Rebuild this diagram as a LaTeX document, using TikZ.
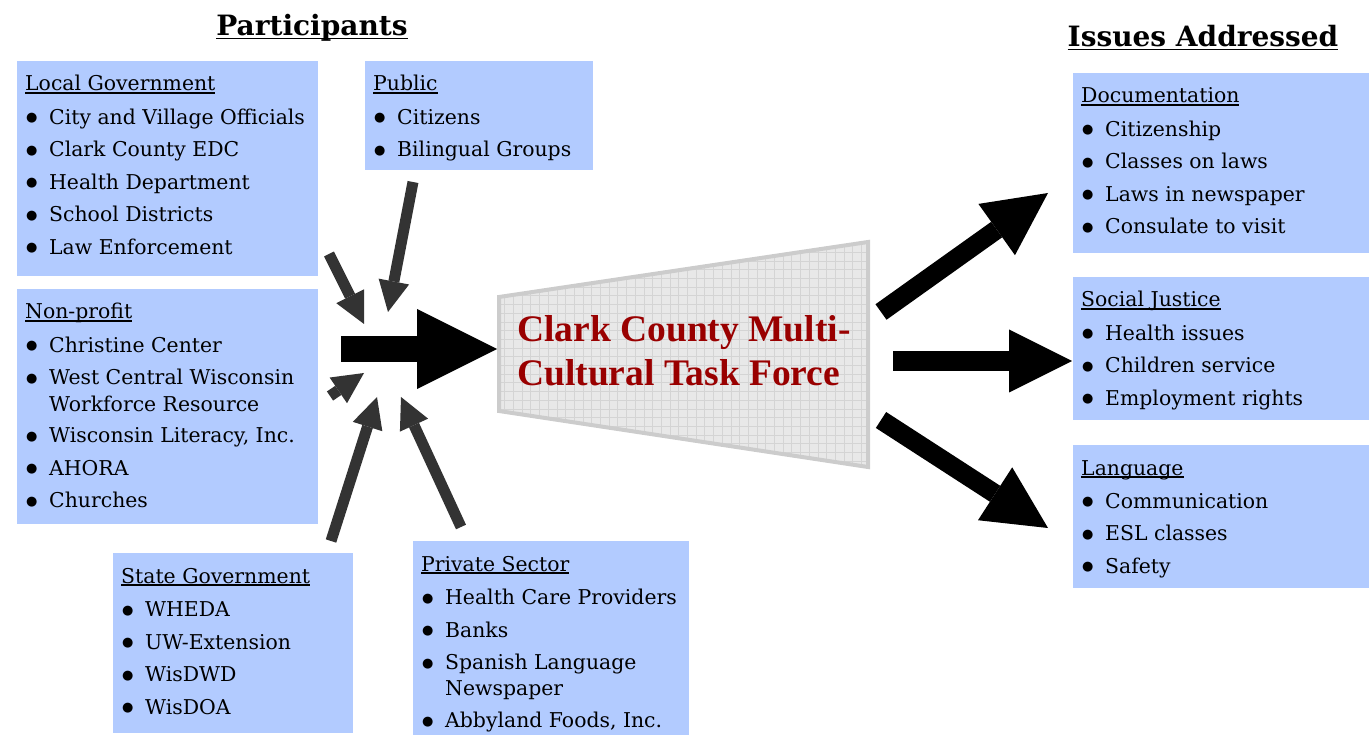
\documentclass[tikz,border=0pt]{standalone}
\usepackage{fontspec}
\setmainfont{DejaVu Serif}
\newfontfamily\taskfont{Liberation Serif}
\newfontfamily\symfont{DejaVu Sans}
\usetikzlibrary{arrows.meta}

\definecolor{boxblue}{RGB}{178,203,255}
\definecolor{greyarrow}{RGB}{51,51,51}
\definecolor{taskred}{RGB}{153,0,0}
\definecolor{trapfill}{RGB}{232,232,232}
\definecolor{trapline}{RGB}{204,204,204}
\definecolor{gridline}{RGB}{212,212,212}

% underlined heading with a fixed rule depth
\newlength\ulwidth
\newcommand\ulhead[2][3pt]{\leavevmode\settowidth\ulwidth{#2}\rlap{\rule[-#1]{\ulwidth}{1.8pt}}#2}
% one bulleted entry of a list
\newcommand\listdot{\raisebox{2.5pt}{\symfont\fontsize{13}{13}\selectfont ●}}
\newcommand\itm[1]{\makebox[24pt][l]{\hspace{1pt}\listdot}#1}
\newcommand\cont[1]{\hspace*{24pt}#1}

\begin{document}
\begin{tikzpicture}[x=1pt,y=-1pt,
  bluebox/.style={fill=boxblue, draw=none, anchor=north west, inner sep=0pt},
  listtext/.style={anchor=base west, inner sep=0pt,
    font=\fontsize{20.4}{32.5}\selectfont},
  heading/.style={anchor=base, inner sep=0pt,
    font=\bfseries\fontsize{28}{28}\selectfont},
  fatarrow/.style n args={3}{draw=black, line width=#1,
    -{Triangle[length=#2, width=#3, line width=0pt]}},
  thinarrow/.style={draw=greyarrow, line width=11pt,
    -{Triangle[length=31pt, width=31pt, line width=0pt]}}
]
\useasboundingbox (0,0) rectangle (1369,735);

% headings
\node[heading] (participants) at (312,36) {\ulhead[3.5pt]{Participants}};
\node[heading] (issues) at (1203,47) {\ulhead[3.5pt]{Issues Addressed}};

% participant boxes
\node[bluebox, minimum width=301pt, minimum height=215pt] (localgov) at (17,61) {};
\node[bluebox, minimum width=228pt, minimum height=109pt] (public) at (365,61) {};
\node[bluebox, minimum width=301pt, minimum height=235pt] (nonprofit) at (17,289) {};
\node[bluebox, minimum width=240pt, minimum height=180pt] (stategov) at (113,553) {};
\node[bluebox, minimum width=276pt, minimum height=194pt] (private) at (413,541) {};

% issue boxes
\node[bluebox, minimum width=296pt, minimum height=180pt] (docs) at (1073,73) {};
\node[bluebox, minimum width=296pt, minimum height=143pt] (justice) at (1073,277) {};
\node[bluebox, minimum width=296pt, minimum height=143pt] (language) at (1073,445) {};

% box contents
\node[listtext] (localgovtext) at (25,91) {\begin{minipage}[t]{290pt}
\ulhead{Local Government}\\[1pt]
\itm{City and Village Officials}\\
\itm{Clark County EDC}\\
\itm{Health Department}\\
\itm{School Districts}\\
\itm{Law Enforcement}
\end{minipage}};

\node[listtext] (publictext) at (373,91) {\begin{minipage}[t]{220pt}
\ulhead{Public}\\[1pt]
\itm{Citizens}\\
\itm{Bilingual Groups}
\end{minipage}};

\node[listtext] (nonprofittext) at (25,319) {\begin{minipage}[t]{290pt}
\ulhead{Non-profit}\\[1pt]
\itm{Christine Center}\\
\itm{West Central Wisconsin}\\[-5.5pt]
\cont{Workforce Resource}\\[-1.5pt]
\itm{Wisconsin Literacy, Inc.}\\
\itm{AHORA}\\
\itm{Churches}
\end{minipage}};

\node[listtext] (statetext) at (121,583) {\begin{minipage}[t]{230pt}
\ulhead{State Government}\\[1pt]
\itm{WHEDA}\\
\itm{UW-Extension}\\
\itm{WisDWD}\\
\itm{WisDOA}
\end{minipage}};

\node[listtext] (privatetext) at (421,571) {\begin{minipage}[t]{270pt}
\ulhead{Private Sector}\\[1pt]
\itm{Health Care Providers}\\
\itm{Banks}\\
\itm{Spanish Language}\\[-6.5pt]
\cont{Newspaper}\\[-0.5pt]
\itm{Abbyland Foods, Inc.}
\end{minipage}};

\node[listtext] (docstext) at (1081,103) {\begin{minipage}[t]{285pt}
\ulhead{Documentation}\\[1pt]
\itm{Citizenship}\\
\itm{Classes on laws}\\
\itm{Laws in newspaper}\\
\itm{Consulate to visit}
\end{minipage}};

\node[listtext] (justicetext) at (1081,307) {\begin{minipage}[t]{285pt}
\ulhead{Social Justice}\\[1pt]
\itm{Health issues}\\
\itm{Children service}\\
\itm{Employment rights}
\end{minipage}};

\node[listtext] (languagetext) at (1081,475) {\begin{minipage}[t]{285pt}
\ulhead{Language}\\[1pt]
\itm{Communication}\\
\itm{ESL classes}\\
\itm{Safety}
\end{minipage}};

% central task force panel
\begin{scope}
  \clip (499,297) -- (868,242) -- (868,467) -- (499,411) -- cycle;
  \fill[trapfill] (499,242) rectangle (868,467);
  \draw[gridline, line width=0.6pt, step=8.7pt] (499,242) grid (868,467);
\end{scope}
\draw[trapline, line width=4pt, line join=miter]
  (499,297) -- (868,242) -- (868,467) -- (499,411) -- cycle;
\node[anchor=base west, inner sep=0pt, text=taskred,
  font=\taskfont\bfseries\fontsize{37.5}{44}\selectfont] (taskforce) at (517,342)
  {\begin{minipage}[t]{345pt}Clark County Multi-\\Cultural Task Force\end{minipage}};

% arrow end points
\coordinate (inTail) at (341,349);   \coordinate (inTip) at (497,349);
\coordinate (g1Tail) at (329,254);   \coordinate (g1Tip) at (364,324);
\coordinate (g2Tail) at (413,182);   \coordinate (g2Tip) at (388,312);
\coordinate (g3Tail) at (330,396);   \coordinate (g3Tip) at (364,373);
\coordinate (g4Tail) at (331,541);   \coordinate (g4Tip) at (377,397);
\coordinate (g5Tail) at (461,527);   \coordinate (g5Tip) at (401,397);
\coordinate (upTail) at (881,312);   \coordinate (upTip) at (1048,193);
\coordinate (midTail) at (893,361);  \coordinate (midTip) at (1072,361);
\coordinate (dnTail) at (881,420);   \coordinate (dnTip) at (1048,528);

% arrows into the task force
\draw[fatarrow={26pt}{80pt}{80pt}] (inTail) -- (inTip);
\draw[thinarrow] (g1Tail) -- (g1Tip);
\draw[thinarrow] (g2Tail) -- (g2Tip);
\draw[thinarrow] (g3Tail) -- (g3Tip);
\draw[thinarrow] (g4Tail) -- (g4Tip);
\draw[thinarrow] (g5Tail) -- (g5Tip);

% arrows out to the issues
\draw[fatarrow={19pt}{63pt}{63pt}] (upTail) -- (upTip);
\draw[fatarrow={20pt}{63pt}{63pt}] (midTail) -- (midTip);
\draw[fatarrow={19pt}{63pt}{63pt}] (dnTail) -- (dnTip);
\end{tikzpicture}
\end{document}
